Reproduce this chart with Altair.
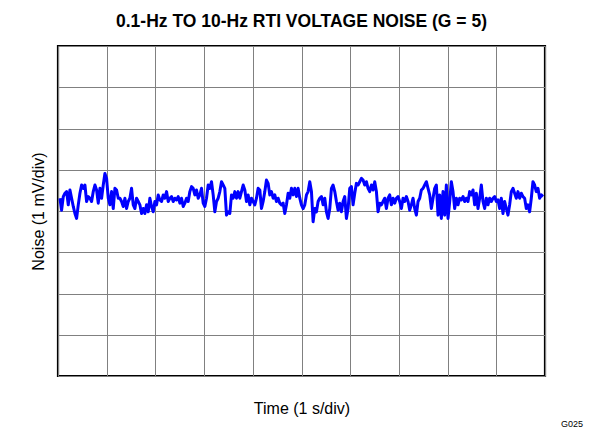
import altair as alt
import pandas as pd

TITLE = "0.1-Hz TO 10-Hz RTI VOLTAGE NOISE (G = 5)"
X_TITLE = "Time (1 s/div)"
Y_TITLE = "Noise (1 mV/div)"
NOTE = "G025"

# sampled noise trace (mV), sampled every DT seconds starting at T0
T0 = 0.04
DT = 0.0342
noise_mv = [
    0.31, 0.02, 0.35, 0.43, 0.47, 0.15, 0.51, 0.31, 0.11, -0.06,
    -0.18, 0.15, 0.43, 0.63, 0.55, 0.63, 0.23, 0.35, 0.31, 0.23,
    0.47, 0.63, 0.51, 0.19, 0.55, 0.31, 0.63, 0.91, 0.79, 0.31,
    0.15, 0.47, 0.06, 0.55, 0.51, 0.31, 0.31, 0.23, 0.11, 0.31,
    0.06, 0.23, 0.31, 0.55, 0.15, 0.06, 0.31, 0.23, 0.15, -0.06,
    0.06, -0.06, 0.15, -0.02, 0.31, 0.11, -0.02, 0.23, 0.15, 0.39,
    0.27, 0.23, 0.39, 0.31, 0.47, 0.23, 0.31, 0.35, 0.23, 0.31,
    0.27, 0.35, 0.19, 0.31, 0.11, 0.19, 0.31, 0.23, 0.47, 0.59,
    0.55, 0.39, 0.51, 0.31, 0.39, 0.55, 0.19, 0.11, 0.31, 0.63,
    0.55, 0.71, 0.39, -0.02, 0.23, 0.31, 0.47, 0.71, 0.63, 0.55,
    # segment 2
    -0.10, -0.02, -0.06, 0.39, 0.31, 0.47, 0.31, 0.47, 0.31, 0.47,
    0.63, 0.51, 0.23, 0.39, 0.15, 0.31, 0.23, 0.15, 0.31, 0.55,
    0.51, 0.06, 0.23, 0.47, 0.75, 0.67, 0.39, 0.47, 0.31, 0.39,
    0.23, 0.31, 0.19, 0.15, 0.19, -0.06, 0.15, 0.43, 0.31, 0.55,
    0.39, 0.55, 0.35, 0.55, 0.31, 0.15, 0.06, 0.15, 0.39, 0.47,
    0.71, 0.47, -0.26, 0.06, -0.02, 0.23, 0.31, 0.35, 0.15, 0.31,
    -0.02, -0.18, 0.06, 0.55, 0.63, 0.47, 0.23, 0.02, 0.19, -0.02,
    0.23, 0.35, -0.18, 0.06, 0.55, 0.59, 0.15, 0.43, 0.67, 0.63,
    0.71, 0.79, 0.75, 0.63, 0.71, 0.55, 0.47, 0.63, 0.51, 0.71,
    0.47, -0.02, 0.19, 0.15, 0.23, 0.31,
    # segment 3
    0.06, 0.31, 0.39, 0.15, 0.31, 0.19, 0.31, 0.35, 0.23, 0.06,
    0.31, 0.23, 0.35, 0.23, 0.02, 0.15, 0.31, 0.06, -0.10, 0.23,
    0.31, 0.51, 0.55, 0.63, 0.71, 0.55, 0.39, 0.06, 0.31, 0.55,
    0.63, -0.10, 0.39, -0.18, 0.47, -0.10, 0.63, -0.18, 0.23, 0.71,
    0.47, 0.06, 0.31, 0.15, 0.31, 0.27, 0.35, 0.23, 0.31, 0.23,
    0.47, 0.39, 0.51, 0.15, 0.43, 0.06, 0.31, 0.63, 0.23, 0.06,
    0.31, 0.15, 0.31, 0.23, 0.31, 0.35, 0.23, 0.27, 0.06, 0.31,
    -0.06, 0.23, 0.06, -0.10, 0.15, 0.47, 0.55, 0.43, 0.31, 0.47,
    0.31, 0.43, 0.35, 0.31, 0.06, 0.15, -0.02, 0.31, 0.71, 0.63,
    0.47, 0.55, 0.31, 0.39, 0.35,
]
x_grid = [0, 1, 2, 3, 4, 5, 6, 7, 8, 9, 10]
y_grid = [-4, -3, -2, -1, 0, 1, 2, 3, 4]

df = pd.DataFrame({
    "t": [T0 + i * DT for i in range(len(noise_mv))],
    "v": noise_mv,
})

W, H = 487, 330

xs = alt.Scale(domain=[0, 10], nice=False)
ys = alt.Scale(domain=[-4, 4], nice=False)

line = alt.Chart(df).mark_line(color="#0000FF", strokeWidth=3, interpolate="linear",
                               strokeJoin="round").encode(
    x=alt.X("t:Q", scale=xs,
            axis=alt.Axis(values=x_grid, labels=False, ticks=False, domain=False,
                          grid=True, gridColor="#808080", gridWidth=1,
                          title=X_TITLE, titleFont="Liberation Sans", titleFontSize=16,
                          titleFontWeight="normal", titleColor="black", titlePadding=24)),
    y=alt.Y("v:Q", scale=ys,
            axis=alt.Axis(values=y_grid, labels=False, ticks=False, domain=False,
                          grid=True, gridColor="#808080", gridWidth=1,
                          title=Y_TITLE, titleFont="Liberation Sans", titleFontSize=16,
                          titleFontWeight="normal", titleColor="black", titlePadding=12)),
)

note = alt.Chart(pd.DataFrame({"s": [NOTE]})).mark_text(
    font="Liberation Sans", fontSize=9, color="black", align="center", baseline="middle"
).encode(x=alt.value(514), y=alt.value(378), text="s:N")

chart = alt.layer(line, note).properties(
    width=W, height=H,
    background="white",
    title=alt.TitleParams(TITLE, font="Liberation Sans", fontSize=17.5, fontWeight="bold",
                          color="black", anchor="middle", offset=16),
    padding={"left": 50, "top": 38, "right": 60, "bottom": 55},
    autosize=alt.AutoSizeParams(type="none"),
).configure_view(stroke="black", strokeWidth=2.2)

chart.save("out.html", embed_options={"renderer": "svg", "actions": False})
